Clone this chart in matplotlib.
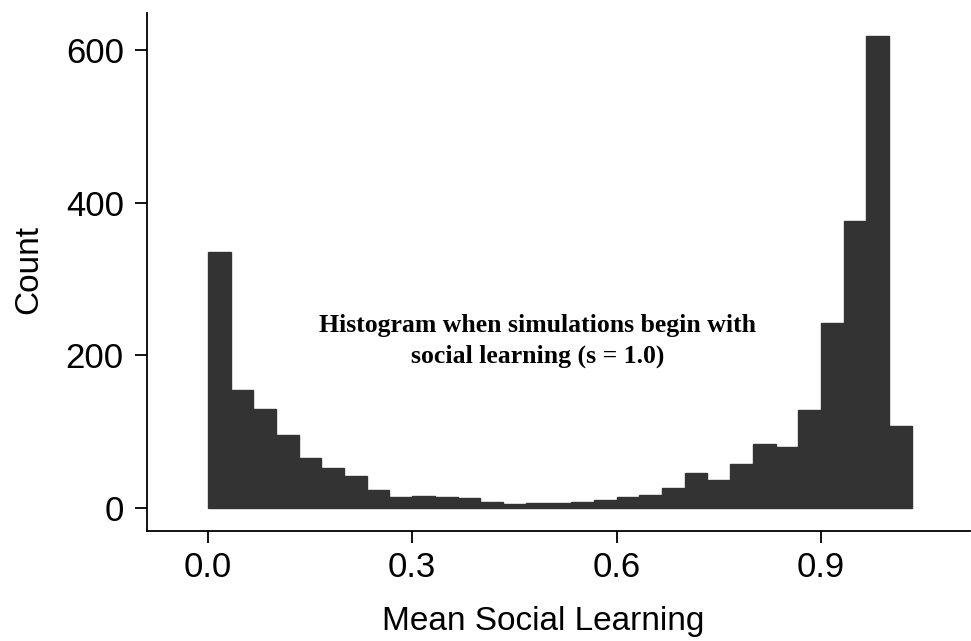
import numpy as np
import matplotlib
matplotlib.use("Agg")
import matplotlib.pyplot as plt

# Histogram data (bin width 1/30, starting at 0)
bin_width = 1 / 30
bin_left = [i / 30 for i in range(31)]
counts = [336, 155, 130, 96, 65, 53, 42, 24, 14, 16,
          15, 13, 8, 5, 6, 6, 8, 10, 15, 17,
          26, 46, 37, 58, 84, 80, 128, 243, 376, 618, 108]

xticks = [0.0, 0.3, 0.6, 0.9]
xtick_labels = ["0.0", "0.3", "0.6", "0.9"]
yticks = [0, 200, 400, 600]

annotation_lines = ["Histogram when simulations begin with",
                    "social learning (s = 1.0)"]

plt.rcParams['font.family'] = ['Liberation Sans', 'DejaVu Sans']

fig = plt.figure(figsize=(9.71, 6.41), dpi=100)
ax = fig.add_axes([146.7 / 971, 1 - 531 / 641, (970 - 146.7) / 971, (531 - 13) / 641])

ax.bar(bin_left, counts, width=bin_width, align='edge',
       color='#333333', edgecolor='#333333', linewidth=1.0)

ax.set_xlim(-0.0897, 1.1187)
ax.set_ylim(-30.1, 648.5)

ax.set_xticks(xticks)
ax.set_xticklabels(xtick_labels)
ax.set_yticks(yticks)

for s in ['top', 'right']:
    ax.spines[s].set_visible(False)
for s in ['left', 'bottom']:
    ax.spines[s].set_linewidth(1.3)
    ax.spines[s].set_color('black')

ax.tick_params(axis='both', direction='out', length=8.5, width=1.3,
               labelsize=25, colors='black')
ax.tick_params(axis='y', pad=8)
ax.tick_params(axis='x', pad=6)

ax.set_xlabel("Mean Social Learning", fontsize=24)
ax.set_ylabel("Count", fontsize=24)
ax.xaxis.label.set_va('baseline')
ax.xaxis.set_label_coords((543 - 146.7) / 823.3, (531 - 630) / 518)
ax.yaxis.label.set_va('center')
ax.yaxis.set_label_coords((29 - 146.7) / 823.3, (531 - 270) / 518)

ax.text(0.484, 231, annotation_lines[0], ha='center', va='baseline',
        fontsize=18.5, fontweight='bold', family=['Liberation Serif', 'DejaVu Serif'])
ax.text(0.484, 190, annotation_lines[1], ha='center', va='baseline',
        fontsize=18.5, fontweight='bold', family=['Liberation Serif', 'DejaVu Serif'])

fig.savefig("out.png", dpi=100, facecolor='white')
